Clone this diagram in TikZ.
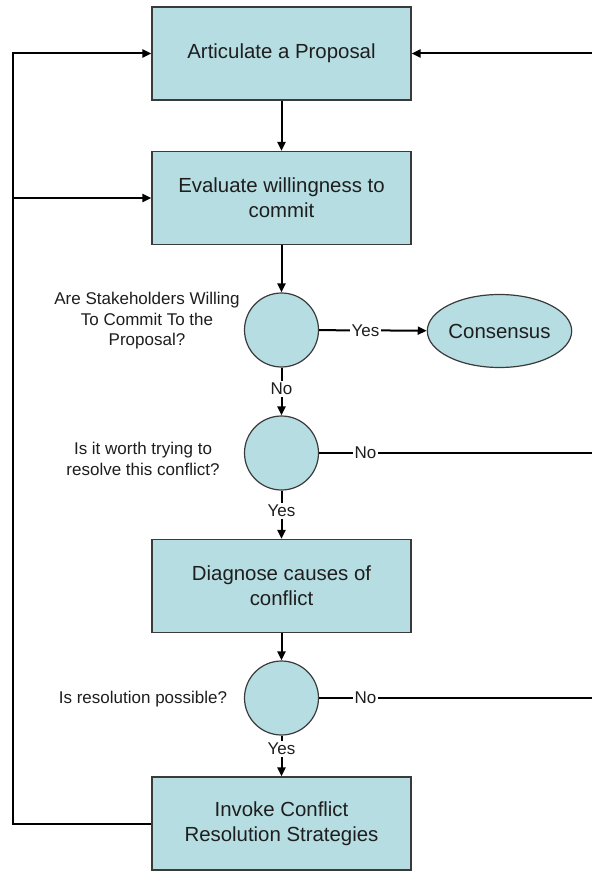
\documentclass[tikz,border=0pt]{standalone}
\usepackage{fontspec}
\setmainfont{Liberation Sans}
\usetikzlibrary{shapes.geometric,arrows.meta}
\definecolor{boxfill}{HTML}{B6DDE2}
\definecolor{edge}{HTML}{3A3A3A}
\definecolor{ink}{HTML}{1E1E1E}
\tikzset{
  stepbox/.style={draw=edge,line width=0.6pt,fill=boxfill,rectangle,minimum width=129.5pt,minimum height=46.5pt,inner sep=0pt,align=center,font=\fontsize{10.2}{12.5}\selectfont,text=ink},
  decision/.style={draw=edge,line width=0.6pt,fill=boxfill,circle,minimum size=37pt,inner sep=0pt},
  endnode/.style={draw=edge,line width=0.6pt,fill=boxfill,ellipse,minimum width=67.5pt,minimum height=36.5pt,inner sep=0pt,font=\fontsize{10.2}{12.5}\selectfont,text=ink},
  qlabel/.style={align=center,font=\fontsize{8.5}{10.25}\selectfont,text=ink,inner sep=0pt},
  conn/.style={draw=black,line width=1pt},
  arr/.style={conn,-{Triangle[length=4.5pt,width=4pt]}},
  lbl/.style={fill=white,inner sep=1pt,font=\fontsize{8.5}{10}\selectfont,text=ink}
}
\begin{document}
\begin{tikzpicture}[x=0.5pt,y=-0.5pt]
\useasboundingbox (0,0) rectangle (591,871);
\fill[white] (0,0) rectangle (591,871);
% nodes
\node[stepbox] (b1) at (281.5,53.5) {Articulate a Proposal};
\node[stepbox] (b2) at (281.5,198) {Evaluate willingness to\\commit};
\node[decision] (c1) at (281.5,330) {};
\node[endnode] (cons) at (499.5,331) {Consensus};
\node[decision] (c2) at (281.5,453) {};
\node[stepbox] (b3) at (281.5,586) {Diagnose causes of\\conflict};
\node[decision] (c3) at (281.5,698) {};
\node[stepbox] (b4) at (281.5,823.5) {Invoke Conflict\\Resolution Strategies};
% question labels
\node[qlabel] (q1) at (147,321) {Are Stakeholders Willing\\To Commit To the\\Proposal?};
\node[qlabel] (q2) at (143,459) {Is it worth trying to\\resolve this conflict?};
\node[qlabel] (q3) at (143,699) {Is resolution possible?};
% free ends
\coordinate (r1) at (592,53.5);
\coordinate (r2) at (592,453);
\coordinate (r3) at (592,698);
\coordinate (l2) at (13,198);
\coordinate (l4) at (13,823.5);
% connectors
\draw[arr] (b1) -- (b2);
\draw[arr] (b2) -- (c1);
\draw[arr] (c1) -- node[lbl,pos=0.43] {Yes} (cons);
\draw[arr] (c1) -- node[lbl,pos=0.45] {No} (c2);
\draw[conn] (c2) -- node[lbl,pos=0.17] {No} (r2);
\draw[arr] (c2) -- node[lbl,pos=0.42] {Yes} (b3);
\draw[arr] (b3) -- (c3);
\draw[conn] (c3) -- node[lbl,pos=0.17] {No} (r3);
\draw[arr] (c3) -- node[lbl,pos=0.33] {Yes} (b4);
\draw[arr] (r1) -- (b1.east);
\draw[arr] (b4.west) -- (l4) |- (b1.west);
\draw[arr] (l2) -- (b2.west);
\end{tikzpicture}
\end{document}
